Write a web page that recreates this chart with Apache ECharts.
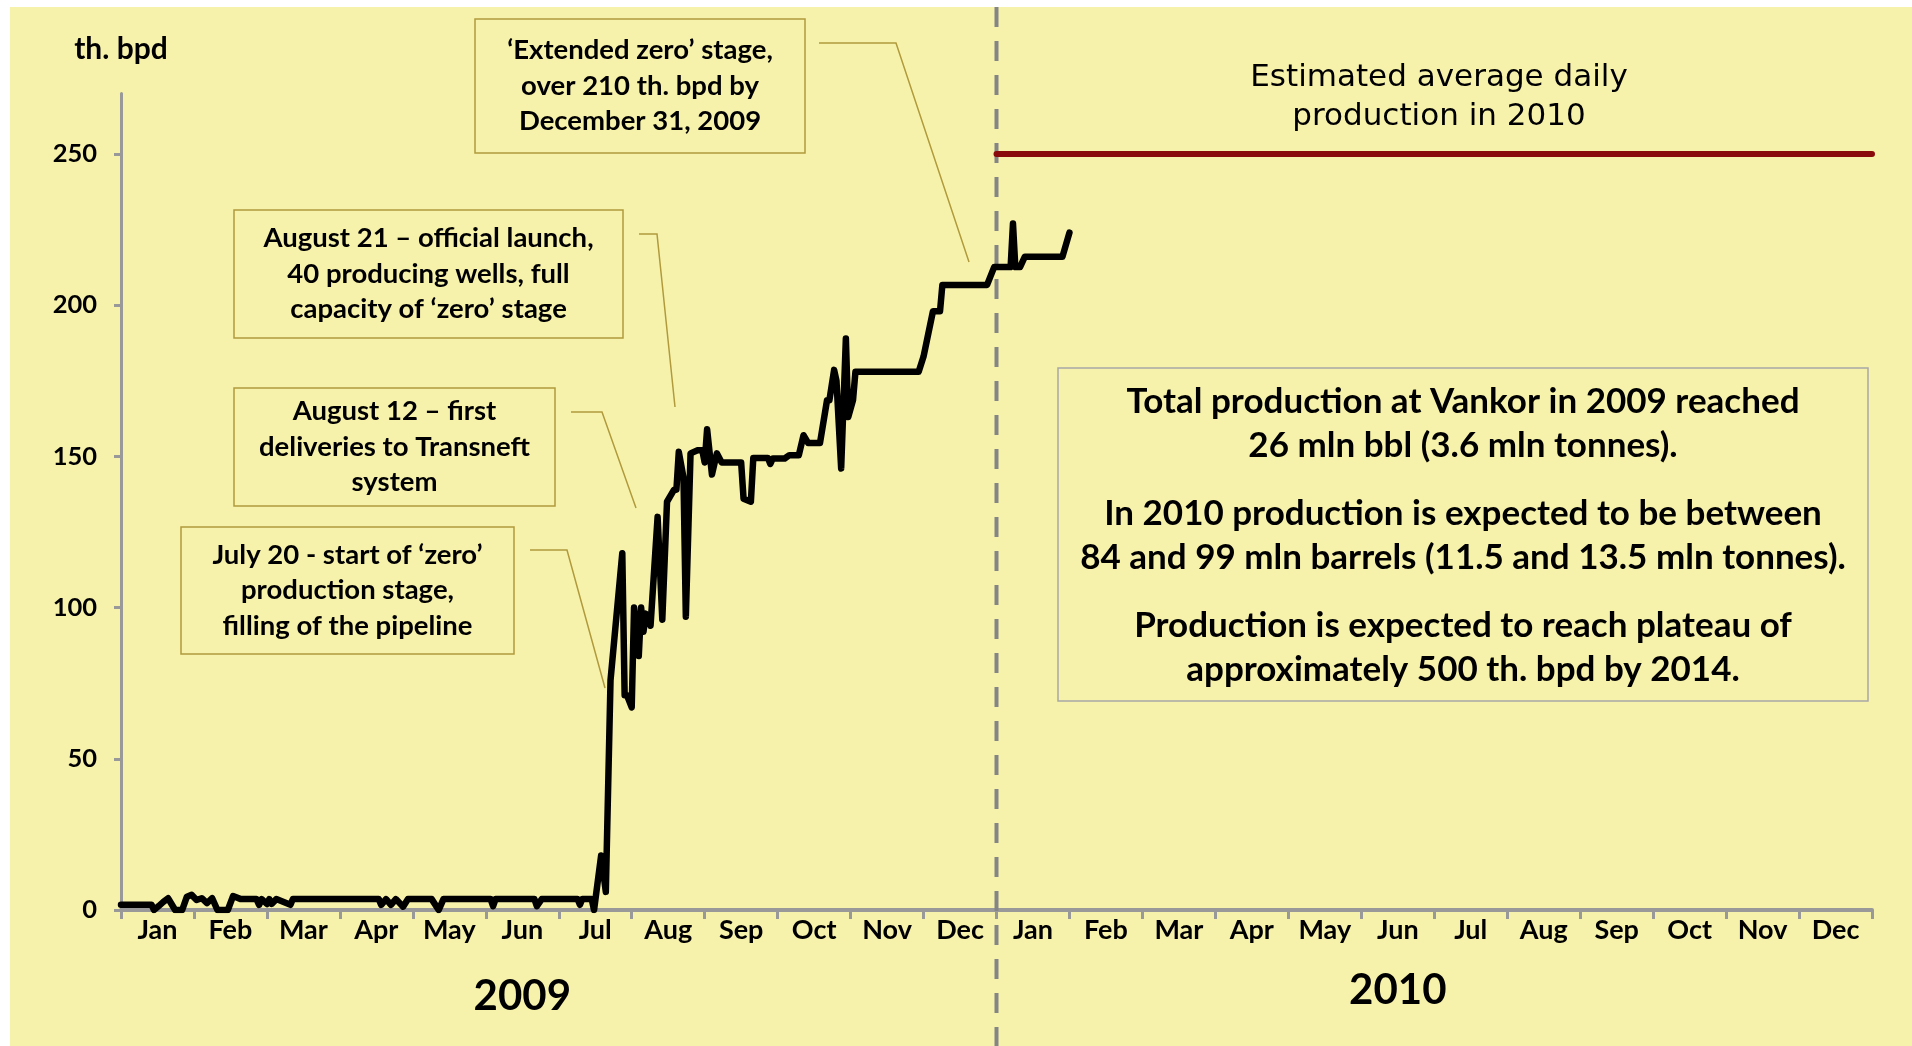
<!DOCTYPE html>
<html>
<head>
<meta charset="utf-8">
<script src="https://cdn.jsdelivr.net/npm/echarts@6/dist/echarts.min.js"></script>
<style>
  html, body { margin: 0; padding: 0; background: #fff; }
  #chart {
    width: 1912px; height: 1046px;
    background: linear-gradient(#F7F2AB, #F7F2AB) no-repeat 10px 7px / 1902px 1039px, #fff;
  }
</style>
</head>
<body>
<div id="chart"></div>
<script>
const monthNames = ['Jan', 'Feb', 'Mar', 'Apr', 'May', 'Jun', 'Jul', 'Aug', 'Sep', 'Oct', 'Nov', 'Dec']
const yearLabels = ['2009', '2010']
const yTicks = [0, 50, 100, 150, 200, 250]

// daily production, th. bpd
const prodDates = [
  '2009-01-01', '2009-01-14', '2009-01-15', '2009-01-17', '2009-01-19', '2009-01-21', '2009-01-24', '2009-01-27',
  '2009-01-29', '2009-01-31', '2009-02-02', '2009-02-04', '2009-02-06', '2009-02-08', '2009-02-10', '2009-02-14',
  '2009-02-16', '2009-02-19', '2009-02-25', '2009-02-26', '2009-02-27', '2009-03-01', '2009-03-02', '2009-03-03',
  '2009-03-05', '2009-03-11', '2009-03-12', '2009-04-17', '2009-04-18', '2009-04-20', '2009-04-22', '2009-04-24',
  '2009-04-27', '2009-04-29', '2009-05-09', '2009-05-12', '2009-05-14', '2009-06-03', '2009-06-04', '2009-06-05',
  '2009-06-21', '2009-06-22', '2009-06-24', '2009-07-09', '2009-07-10', '2009-07-11', '2009-07-15', '2009-07-16',
  '2009-07-19', '2009-07-21', '2009-07-23', '2009-07-28', '2009-07-29', '2009-07-30', '2009-08-01', '2009-08-02',
  '2009-08-04', '2009-08-05', '2009-08-06', '2009-08-07', '2009-08-09', '2009-08-12', '2009-08-14', '2009-08-16',
  '2009-08-19', '2009-08-20', '2009-08-21', '2009-08-23', '2009-08-24', '2009-08-26', '2009-08-29', '2009-08-31',
  '2009-09-01', '2009-09-02', '2009-09-04', '2009-09-06', '2009-09-08', '2009-09-16', '2009-09-17', '2009-09-20',
  '2009-09-21', '2009-09-27', '2009-09-28', '2009-09-29', '2009-10-04', '2009-10-06', '2009-10-10', '2009-10-12',
  '2009-10-14', '2009-10-19', '2009-10-22', '2009-10-23', '2009-10-25', '2009-10-26', '2009-10-28', '2009-10-30',
  '2009-10-31', '2009-11-02', '2009-11-03', '2009-11-29', '2009-12-01', '2009-12-05', '2009-12-08', '2009-12-09',
  '2009-12-28', '2009-12-31', '2010-01-07', '2010-01-08', '2010-01-09', '2010-01-11', '2010-01-13', '2010-01-29',
  '2010-02-01'
]
const prodValues = [
  1.7, 1.7, 0, 1.3, 2.7, 3.9, 0, 0,
  4.4, 5, 3.3, 3.9, 2.3, 3.9, 0, 0,
  4.6, 3.6, 3.6, 1.7, 3.6, 2.0, 3.6, 2.0,
  3.6, 1.7, 3.6, 3.6, 1.7, 3.6, 1.7, 3.6,
  1.1, 3.6, 3.6, 0, 3.6, 3.6, 1.3, 3.6,
  3.6, 1.3, 3.6, 3.6, 1.7, 3.6, 3.6, 0,
  18, 6, 76, 118, 71, 71, 67, 100,
  84, 100, 92, 98, 94, 130, 96, 135,
  139, 139, 151.5, 143, 97, 151, 152, 152,
  148, 159, 144, 151, 148, 148, 136, 135,
  149.5, 149.5, 147.5, 149.3, 149.3, 150.4, 150.4, 157,
  154.4, 154.4, 168.6, 168.6, 178.6, 175, 146, 189,
  163, 168.6, 178, 178, 183, 198, 198, 206.7,
  206.7, 212.6, 212.6, 227, 212.6, 212.6, 216, 216,
  224
]

// estimated average daily production in 2010
const planDates = ['2010-01-01', '2010-07-15', '2011-01-01']
const planValues = [250, 250, 250]

// position on the axis in months from Jan 1, 2009 (each month same width)
function monthPos (s) {
  const [y, m, d] = s.split('-').map(Number)
  const days = new Date(y, m, 0).getDate()
  return (y - 2009) * 12 + (m - 1) + (d - 1) / days
}

const labelPos = []
for (let i = 0; i < 24; i++) labelPos.push(i + 0.5)

const boldFont = 'Lato'
const boxColor = '#B09A3C'

const chart = echarts.init(document.getElementById('chart'))
chart.setOption({
  animation: false,
  grid: { left: 121, right: 40, top: 93.5, bottom: 136 },
  xAxis: {
    type: 'value',
    min: 0,
    max: 24,
    interval: 1,
    axisLine: { lineStyle: { color: '#999', width: 4 } },
    axisTick: { length: 9, lineStyle: { color: '#999', width: 3 } },
    axisLabel: {
      customValues: labelPos,
      formatter: (v) => monthNames[Math.floor(v) % 12],
      color: '#000',
      fontFamily: boldFont,
      fontWeight: 'bold',
      fontSize: 27,
      margin: 7
    },
    splitLine: { show: false }
  },
  yAxis: {
    type: 'value',
    min: 0,
    max: 270,
    name: 'th. bpd',
    nameLocation: 'end',
    nameGap: 29,
    nameTextStyle: { color: '#000', fontFamily: boldFont, fontWeight: 'bold', fontSize: 30 },
    axisLine: { show: true, lineStyle: { color: '#999', width: 3 } },
    axisTick: { show: true, customValues: yTicks, length: 7, lineStyle: { color: '#999', width: 3 } },
    axisLabel: {
      customValues: yTicks,
      color: '#000',
      fontFamily: boldFont,
      fontWeight: 'bold',
      fontSize: 25.5,
      margin: 24
    },
    splitLine: { show: false }
  },
  series: [
    {
      type: 'line',
      data: prodDates.map((d, i) => [monthPos(d), prodValues[i]]),
      showSymbol: false,
      lineStyle: { color: '#000', width: 6.5, cap: 'round', join: 'round' },
      z: 4
    },
    {
      type: 'line',
      data: planDates.map((d, i) => [monthPos(d), planValues[i]]),
      showSymbol: false,
      lineStyle: { color: '#8A0B0B', width: 6, cap: 'round' },
      z: 3
    }
  ]
})

// boundary between 2009 and 2010, year captions
const xSplit = chart.convertToPixel({ xAxisIndex: 0 }, monthPos('2010-01-01'))
const yearX = [chart.convertToPixel({ xAxisIndex: 0 }, 5.5), chart.convertToPixel({ xAxisIndex: 0 }, 17.5)]

function noteBox (x, y, w, h, text) {
  return [
    { type: 'rect', shape: { x, y, width: w, height: h }, style: { fill: null, stroke: boxColor, lineWidth: 1.5 } },
    {
      type: 'text',
      x: x + w / 2,
      y: y + h / 2,
      style: { text, fill: '#000', font: 'bold 27.5px ' + boldFont, align: 'center', verticalAlign: 'middle', lineHeight: 35.5 }
    }
  ]
}

function leader (pts) {
  return { type: 'polyline', shape: { points: pts }, style: { stroke: boxColor, lineWidth: 1.5, fill: null } }
}

const bigText = (y, text) => ({
  type: 'text',
  x: 1463,
  y,
  style: { text, fill: '#000', font: 'bold 35px ' + boldFont, align: 'center', verticalAlign: 'middle', lineHeight: 44 }
})

chart.setOption({
  graphic: [
    {
      type: 'line',
      shape: { x1: xSplit, y1: 7, x2: xSplit, y2: 1046 },
      style: { stroke: '#858585', lineWidth: 4, lineDash: [20, 14] },
      z: 1
    },
    ...noteBox(475, 19, 330, 134, '‘Extended zero’ stage,\nover 210 th. bpd by\nDecember 31, 2009'),
    ...noteBox(234, 210, 389, 128, 'August 21 – official launch,\n40 producing wells, full\ncapacity of ‘zero’ stage'),
    ...noteBox(234, 388, 321, 118, 'August 12 – first\ndeliveries to Transneft\nsystem'),
    ...noteBox(181, 527, 333, 127, 'July 20 - start of ‘zero’\nproduction stage,\nfilling of the pipeline'),
    leader([[819, 43], [896, 43], [969, 262]]),
    leader([[639, 234], [657, 234], [675, 407]]),
    leader([[571, 412], [602, 412], [636, 508]]),
    leader([[530, 550], [567, 550], [605, 688]]),
    {
      type: 'text',
      x: 1439,
      y: 97,
      style: {
        text: 'Estimated average daily\nproduction in 2010',
        fill: '#000', font: '31px "DejaVu Sans"', align: 'center', verticalAlign: 'middle', lineHeight: 39
      }
    },
    { type: 'rect', shape: { x: 1058, y: 368, width: 810, height: 333 }, style: { fill: null, stroke: '#A8A8A8', lineWidth: 1.5 } },
    bigText(424, 'Total production at Vankor in 2009 reached\n26 mln bbl (3.6 mln tonnes).'),
    bigText(536, 'In 2010 production is expected to be between\n84 and 99 mln barrels (11.5 and 13.5 mln tonnes).'),
    bigText(648, 'Production is expected to reach plateau of\napproximately 500 th. bpd by 2014.'),
    {
      type: 'text',
      x: yearX[0],
      y: 996,
      style: { text: yearLabels[0], fill: '#000', font: 'bold 42px ' + boldFont, align: 'center', verticalAlign: 'middle' }
    },
    {
      type: 'text',
      x: yearX[1],
      y: 990,
      style: { text: yearLabels[1], fill: '#000', font: 'bold 42px ' + boldFont, align: 'center', verticalAlign: 'middle' }
    }
  ]
})
</script>
</body>
</html>
